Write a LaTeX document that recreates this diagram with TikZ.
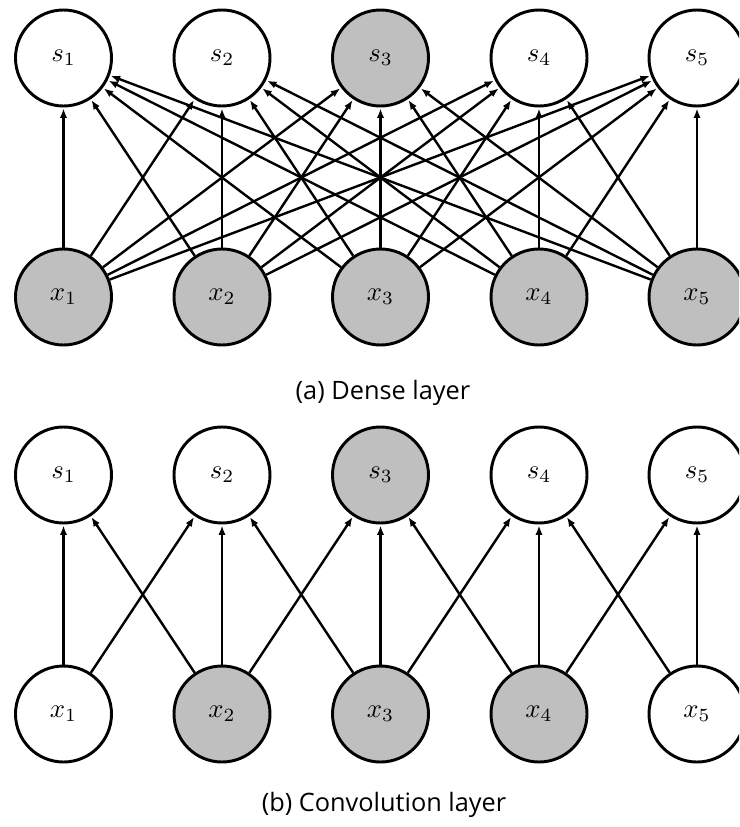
\documentclass[tikz,border=0pt]{standalone}
\usepackage{fontspec}
\setsansfont{Open Sans}
\usetikzlibrary{arrows.meta}
\definecolor{unitgray}{RGB}{191,191,191}
\newcommand{\unitlabel}[1]{\scalebox{2}{$#1$}}
\begin{document}
\begin{tikzpicture}[x=0.75pt,y=-0.75pt,
  unit/.style={circle,draw=black,line width=2.2pt,minimum size=72pt,inner sep=0pt,fill=white},
  shaded/.style={unit,fill=unitgray},
  link/.style={line width=1.8pt,-{Latex[length=7pt,width=5.5pt]},shorten >=0.8pt},
  caption/.style={font=\sffamily\fontsize{19}{23}\selectfont}]
\useasboundingbox (0,0) rectangle (739,827);
\clip (0,0) rectangle (739,827);

% column positions
\def\colA{63.5}\def\colB{222}\def\colC{380.5}\def\colD{539}\def\colE{697}

% (a) dense layer
\node[unit]   (as1) at (\colA,58) {\unitlabel{s_1}};
\node[unit]   (as2) at (\colB,58) {\unitlabel{s_2}};
\node[shaded] (as3) at (\colC,58) {\unitlabel{s_3}};
\node[unit]   (as4) at (\colD,58) {\unitlabel{s_4}};
\node[unit]   (as5) at (\colE,58) {\unitlabel{s_5}};
\node[shaded] (ax1) at (\colA,297) {\unitlabel{x_1}};
\node[shaded] (ax2) at (\colB,297) {\unitlabel{x_2}};
\node[shaded] (ax3) at (\colC,297) {\unitlabel{x_3}};
\node[shaded] (ax4) at (\colD,297) {\unitlabel{x_4}};
\node[shaded] (ax5) at (\colE,297) {\unitlabel{x_5}};
\foreach \i in {1,...,5}
  \foreach \j in {1,...,5}
    \draw[link] (ax\i) -- (as\j);
\node[caption] (capa) at (383,393) {(a) Dense layer};

% (b) convolution layer
\node[unit]   (bs1) at (\colA,475) {\unitlabel{s_1}};
\node[unit]   (bs2) at (\colB,475) {\unitlabel{s_2}};
\node[shaded] (bs3) at (\colC,475) {\unitlabel{s_3}};
\node[unit]   (bs4) at (\colD,475) {\unitlabel{s_4}};
\node[unit]   (bs5) at (\colE,475) {\unitlabel{s_5}};
\node[unit]   (bx1) at (\colA,714) {\unitlabel{x_1}};
\node[shaded] (bx2) at (\colB,714) {\unitlabel{x_2}};
\node[shaded] (bx3) at (\colC,714) {\unitlabel{x_3}};
\node[shaded] (bx4) at (\colD,714) {\unitlabel{x_4}};
\node[unit]   (bx5) at (\colE,714) {\unitlabel{x_5}};
\foreach \i in {1,...,5}{
  \draw[link] (bx\i) -- (bs\i);
  \ifnum\i>1 \pgfmathtruncatemacro\p{\i-1}\draw[link] (bx\i) -- (bs\p);\fi
  \ifnum\i<5 \pgfmathtruncatemacro\n{\i+1}\draw[link] (bx\i) -- (bs\n);\fi
}
\node[caption] (capb) at (384,805) {(b) Convolution layer};
\end{tikzpicture}
\end{document}
